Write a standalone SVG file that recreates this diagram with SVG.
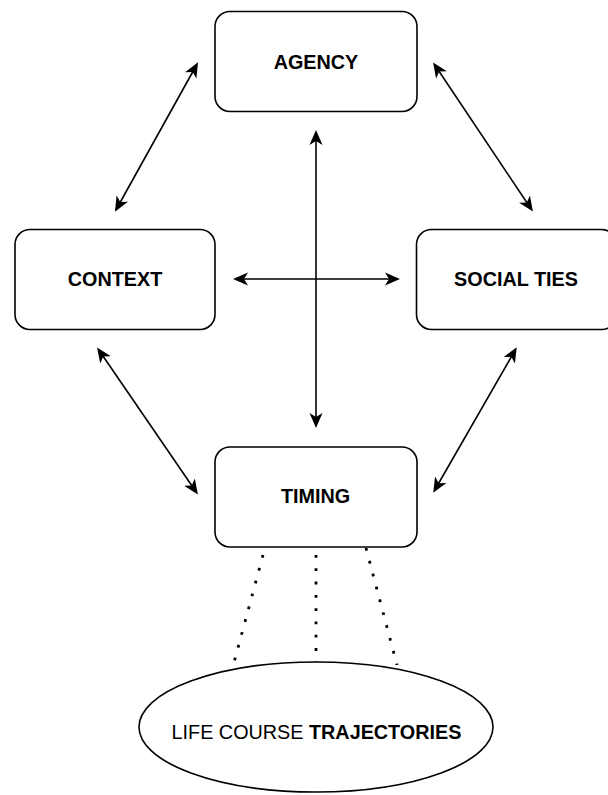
<svg xmlns="http://www.w3.org/2000/svg" width="608" height="795" viewBox="0 0 608 795">
  <style>
    .box { fill: #ffffff; stroke: #000000; stroke-width: 1.6; }
    .lbl { font-family: "Liberation Sans", Arial, Helvetica, sans-serif; font-size: 19.8px; font-weight: bold; fill: #000000; text-anchor: middle; }
    .reg { font-weight: normal; }
    .link { fill: none; stroke: #000000; stroke-width: 1.6; marker-start: url(#head); marker-end: url(#head); }
    .dots { fill: none; stroke: #000000; stroke-width: 2.8; stroke-dasharray: 2.8 10.5; }
  </style>
  <defs>
    <marker id="head" markerUnits="userSpaceOnUse" markerWidth="18" markerHeight="16" viewBox="0 -8 18 16" refX="12.5" refY="0" orient="auto-start-reverse">
      <path d="M0,-6.5 L15,0 L0,6.5 L4,0 Z" fill="#000000"/>
    </marker>
  </defs>

  <rect width="608" height="795" fill="#ffffff"/>

  <!-- connectors -->
  <g id="connectors">
    <line class="link" x1="116.2" y1="209.5" x2="196.8" y2="64.5"/>
    <line class="link" x1="434.5" y1="64.5" x2="531.5" y2="209.5"/>
    <line class="link" x1="98.5" y1="349.5" x2="196.5" y2="492.5"/>
    <line class="link" x1="515.5" y1="349.5" x2="434.5" y2="490.5"/>
    <line class="link" x1="235.5" y1="279" x2="397.5" y2="279"/>
    <line class="link" x1="316" y1="132.5" x2="316" y2="425.5"/>
    <line class="dots" x1="263" y1="555" x2="232" y2="670"/>
    <line class="dots" x1="316" y1="555" x2="316" y2="663"/>
    <line class="dots" x1="366" y1="548" x2="397" y2="665"/>
  </g>

  <g id="agency">
    <rect class="box" x="215" y="11.5" width="202" height="100" rx="15" ry="15"/>
    <text class="lbl" x="316" y="69">AGENCY</text>
  </g>

  <g id="context">
    <rect class="box" x="15" y="229.5" width="200" height="100" rx="15" ry="15"/>
    <text class="lbl" x="115" y="286">CONTEXT</text>
  </g>

  <g id="social-ties">
    <rect class="box" x="416.5" y="229.5" width="200" height="100" rx="15" ry="15"/>
    <text class="lbl" x="516" y="286">SOCIAL TIES</text>
  </g>

  <g id="timing">
    <rect class="box" x="215" y="447" width="202" height="100" rx="15" ry="15"/>
    <text class="lbl" x="315.5" y="503">TIMING</text>
  </g>

  <g id="trajectories">
    <ellipse class="box" cx="316" cy="727" rx="177" ry="65"/>
    <text class="lbl" x="316.5" y="739"><tspan class="reg">LIFE COURSE </tspan>TRAJECTORIES</text>
  </g>
</svg>
